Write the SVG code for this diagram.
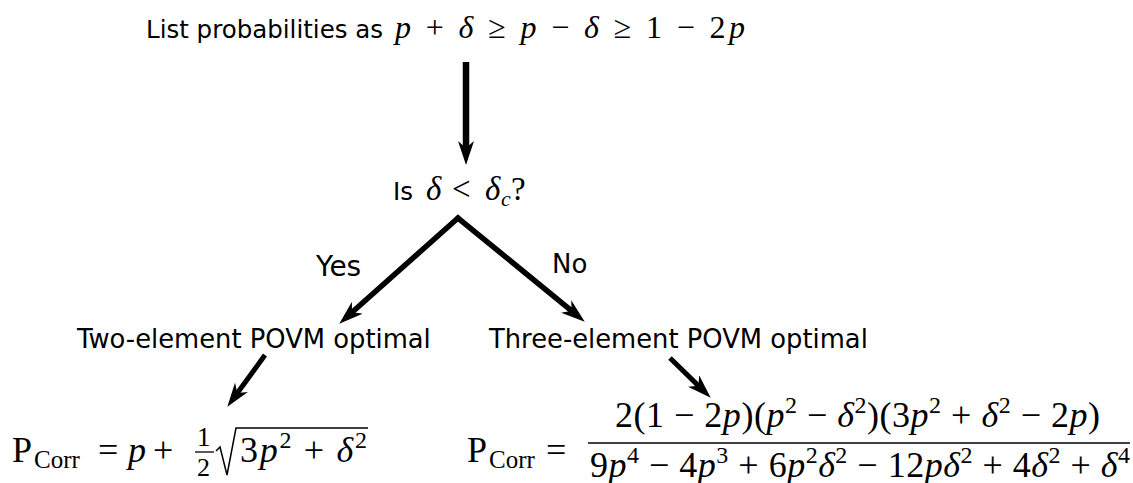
<svg xmlns="http://www.w3.org/2000/svg" width="1133" height="483" viewBox="0 0 1133 483">
<style>
.sans{font-family:"DejaVu Sans",sans-serif;fill:#000}
.m{font-family:"Liberation Serif","Times New Roman",serif;fill:#000}
.i{font-style:italic}
.conn{fill:none;stroke:#000;stroke-linejoin:miter;stroke-miterlimit:20}
</style>
<defs>
<marker id="ah" markerUnits="userSpaceOnUse" viewBox="0 0 24 16" markerWidth="24" markerHeight="16" refX="11" refY="8" orient="auto">
<path d="M0,0 L24,8 L0,16 L7,8 z" fill="#000"/>
</marker>
</defs>
<rect width="1133" height="483" fill="#fff"/>

<g id="start">
<text class="sans" x="146" y="38" font-size="24.5">List probabilities as</text>
<text class="m" x="395" y="38" font-size="32" textLength="350" lengthAdjust="spacing"><tspan class="i">p</tspan> + <tspan class="i">δ</tspan> ≥ <tspan class="i">p</tspan> − <tspan class="i">δ</tspan> ≥ 1 − 2<tspan class="i">p</tspan></text>
</g>

<g id="decision">
<text class="sans" x="393" y="200" font-size="24.5">Is</text>
<text class="m" y="200" font-size="33"><tspan class="i" x="426">δ</tspan><tspan x="452">&lt;</tspan><tspan class="i" x="485">δ</tspan><tspan class="i" x="501" y="206" font-size="22">c</tspan><tspan x="511" y="200">?</tspan></text>
</g>

<g id="yes-label">
<text class="sans" x="316" y="276" font-size="28">Yes</text>
</g>
<g id="no-label">
<text class="sans" x="552" y="273" font-size="26">No</text>
</g>

<g id="two-element">
<text class="sans" x="77" y="348" font-size="25.8">Two-element POVM optimal</text>
</g>

<g id="three-element">
<text class="sans" x="489" y="348" font-size="25.8">Three-element POVM optimal</text>
</g>

<g id="formula-two">
<text class="m" x="12" y="462" font-size="36">P</text>
<text class="m" x="34" y="468" font-size="25">Corr</text>
<text class="m" x="98" y="462" font-size="36">=</text>
<text class="m i" x="128" y="462" font-size="36">p</text>
<text class="m" x="153" y="462" font-size="36">+</text>
<text class="m" x="197" y="446" font-size="27">1</text>
<line x1="195" y1="452" x2="214" y2="452" stroke="#000" stroke-width="1.3"/>
<text class="m" x="197" y="476" font-size="26">2</text>
<path d="M216,451 L220,447 L227,475 L236,428 L368,428" fill="none" stroke="#000" stroke-width="1.5"/>
<text class="m" x="240" y="462" font-size="36" textLength="127" lengthAdjust="spacing">3<tspan class="i">p</tspan><tspan font-size="24" dy="-14">2</tspan><tspan dy="14"> + </tspan><tspan class="i">δ</tspan><tspan font-size="24" dy="-14">2</tspan></text>
</g>

<g id="formula-three">
<text class="m" x="467" y="462" font-size="36">P</text>
<text class="m" x="489" y="468" font-size="25">Corr</text>
<text class="m" x="546" y="462" font-size="36">=</text>
<line x1="588" y1="443" x2="1130" y2="443" stroke="#000" stroke-width="1.5"/>
<text class="m" x="615" y="427" font-size="36" textLength="485" lengthAdjust="spacing">2(1 − 2<tspan class="i">p</tspan>)(<tspan class="i">p</tspan><tspan font-size="24" dy="-14">2</tspan><tspan dy="14"> − </tspan><tspan class="i">δ</tspan><tspan font-size="24" dy="-14">2</tspan><tspan dy="14">)(3</tspan><tspan class="i">p</tspan><tspan font-size="24" dy="-14">2</tspan><tspan dy="14"> + </tspan><tspan class="i">δ</tspan><tspan font-size="24" dy="-14">2</tspan><tspan dy="14"> − 2</tspan><tspan class="i">p</tspan>)</text>
<text class="m" x="590" y="477" font-size="36" textLength="540" lengthAdjust="spacing">9<tspan class="i">p</tspan><tspan font-size="24" dy="-14">4</tspan><tspan dy="14"> − 4</tspan><tspan class="i">p</tspan><tspan font-size="24" dy="-14">3</tspan><tspan dy="14"> + 6</tspan><tspan class="i">p</tspan><tspan font-size="24" dy="-14">2</tspan><tspan dy="14" class="i">δ</tspan><tspan font-size="24" dy="-14">2</tspan><tspan dy="14"> − 12</tspan><tspan class="i">pδ</tspan><tspan font-size="24" dy="-14">2</tspan><tspan dy="14"> + 4</tspan><tspan class="i">δ</tspan><tspan font-size="24" dy="-14">2</tspan><tspan dy="14"> + </tspan><tspan class="i">δ</tspan><tspan font-size="24" dy="-14">4</tspan></text>
</g>

<g id="connectors">
<path class="conn" d="M466,62 L466,152" stroke-width="6.5" marker-end="url(#ah)"/>
<path class="conn" d="M458.8,218.6 L458,218 L349,315" stroke-width="5.5" marker-end="url(#ah)"/>
<path class="conn" d="M457.2,218.7 L458,218 L574.7,313.4" stroke-width="5.5" marker-end="url(#ah)"/>
<path class="conn" d="M265,355 L235,396.3" stroke-width="5" marker-end="url(#ah)"/>
<path class="conn" d="M670,358 L701.4,388.6" stroke-width="5" marker-end="url(#ah)"/>
</g>
</svg>
